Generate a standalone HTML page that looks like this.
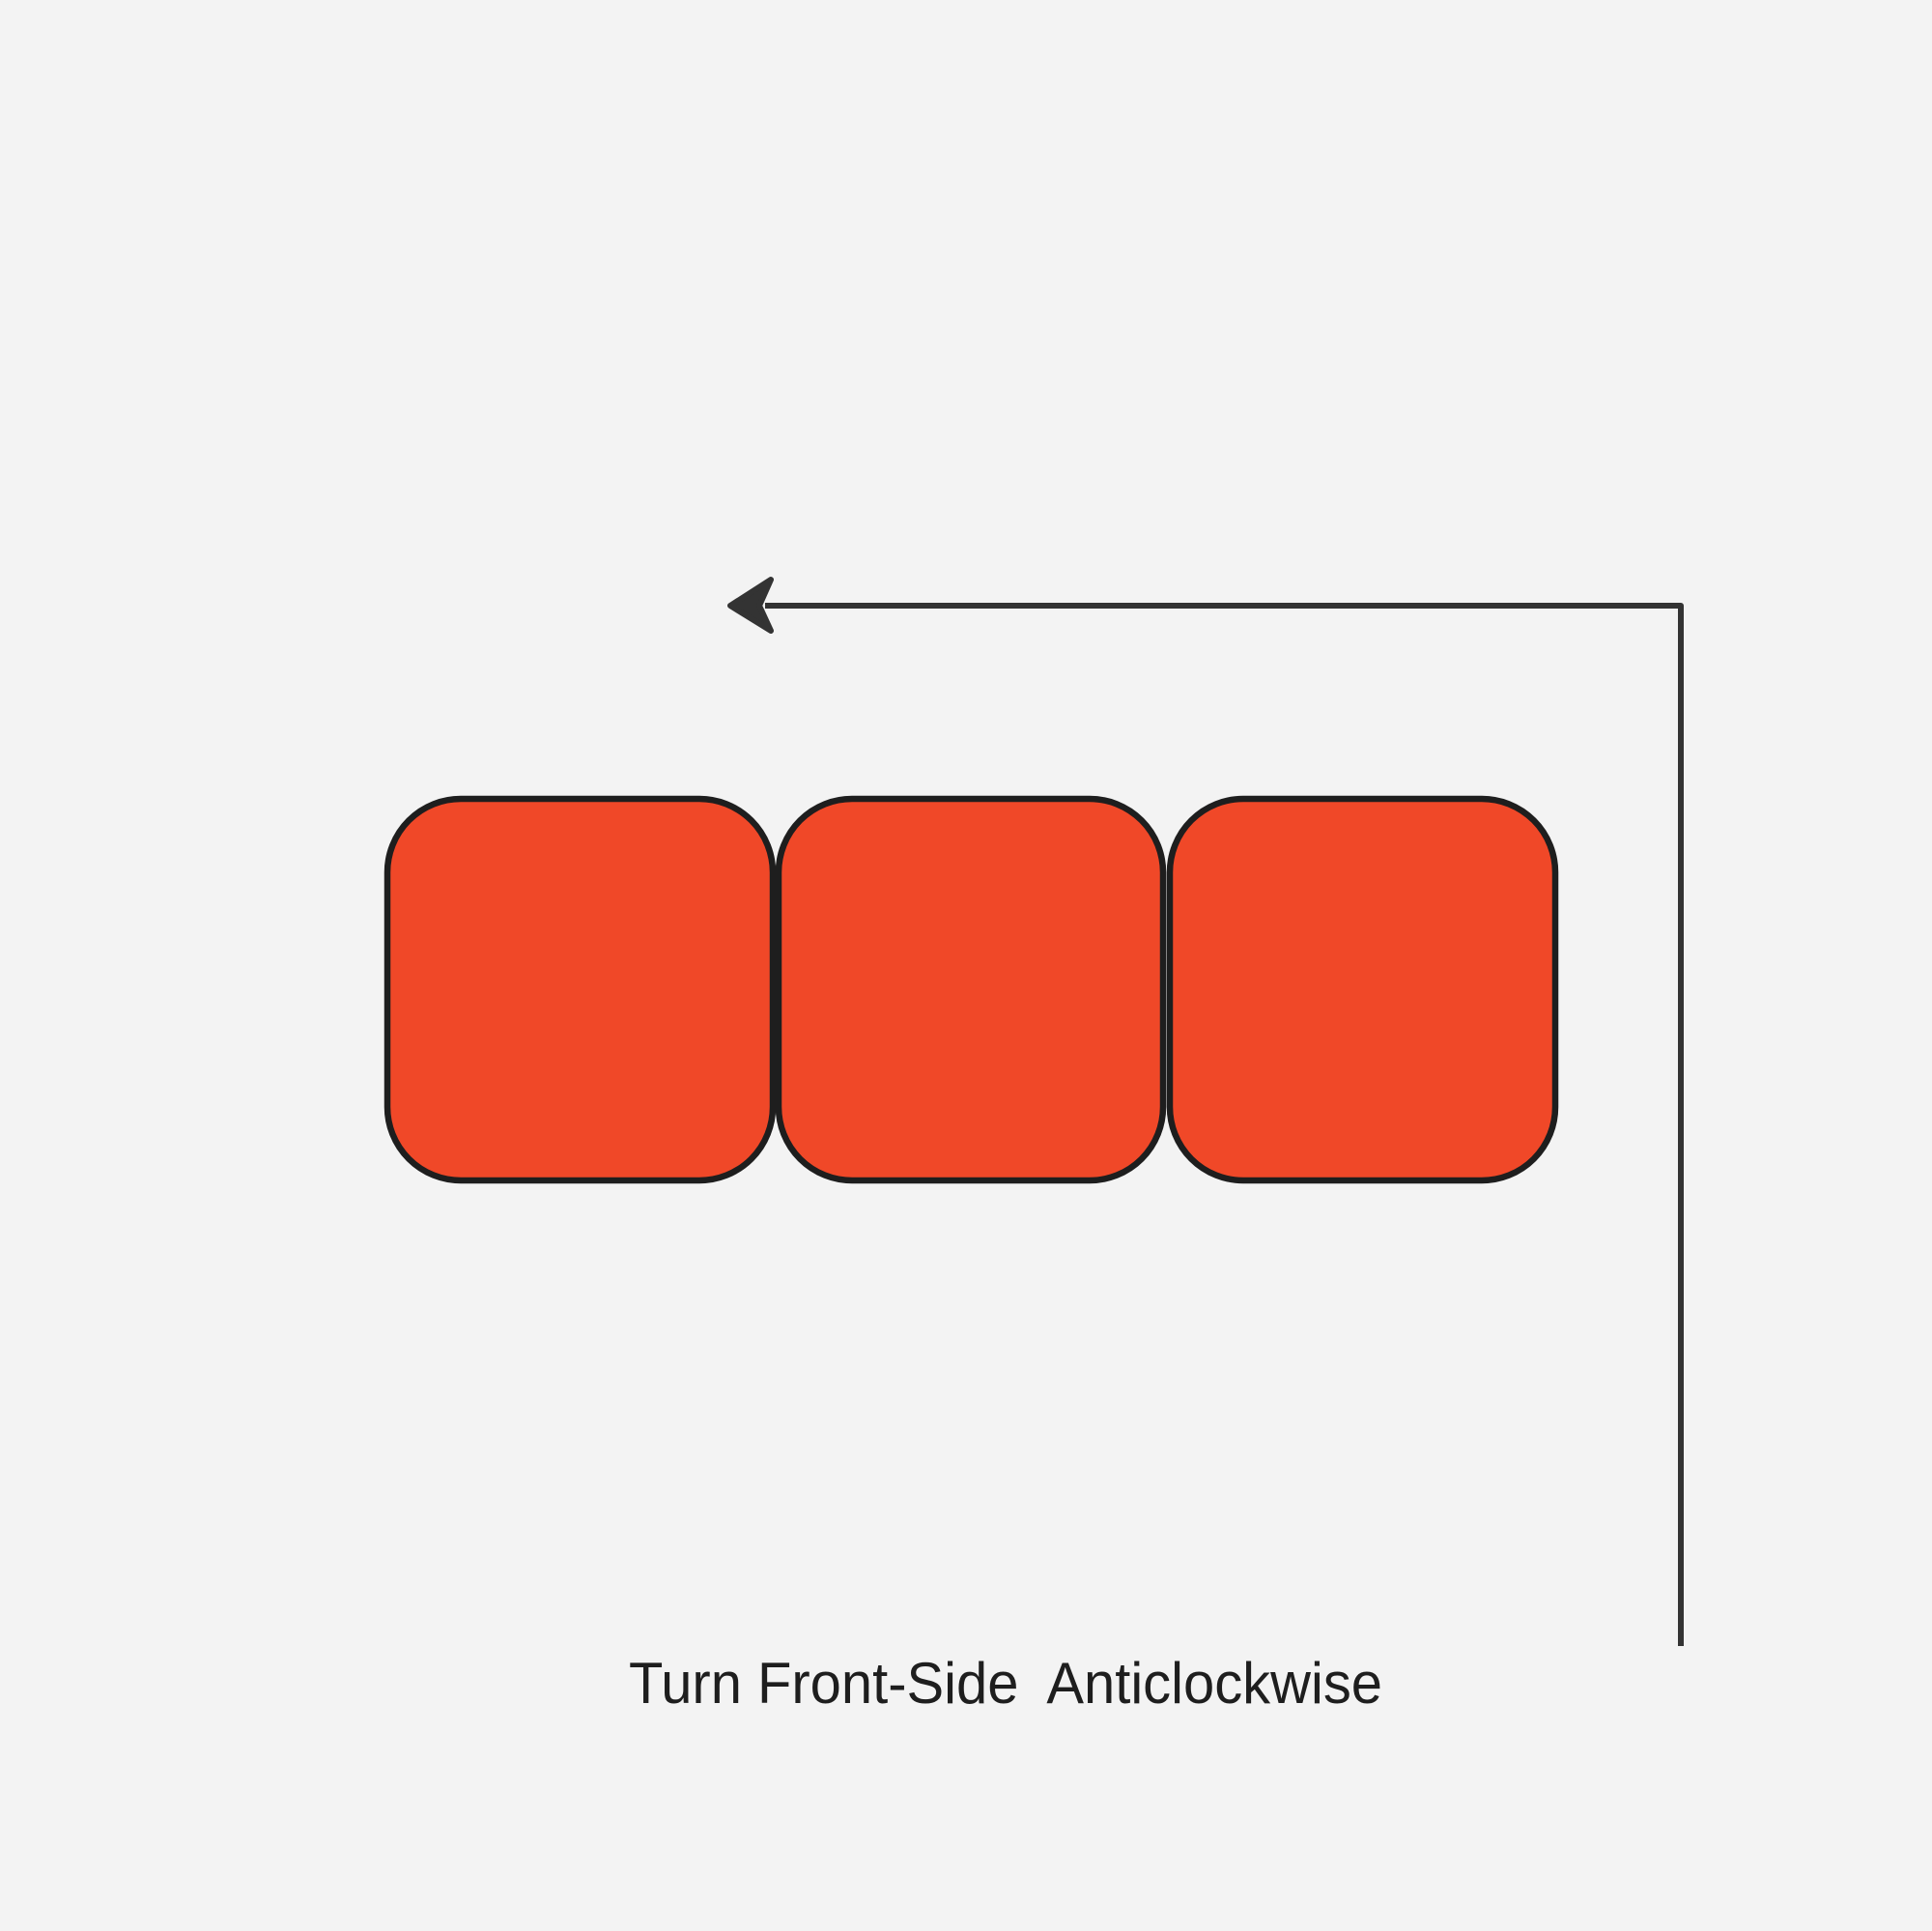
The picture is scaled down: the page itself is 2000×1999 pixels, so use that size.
<!DOCTYPE html>
<html>
<head>
<meta charset="utf-8">
<style>
html,body{margin:0;padding:0;background:#f3f3f3;}
svg{display:block;}
</style>
</head>
<body>
<svg width="2000" height="1999" viewBox="0 0 2000 1999">
  <rect x="0" y="0" width="2000" height="1999" fill="#f3f3f3"/>
  <g>
    <rect x="401" y="827" width="399" height="395" rx="76" ry="76" fill="#f04828" stroke="#1e1e1e" stroke-width="6.5"/>
    <rect x="806" y="827" width="398" height="395" rx="76" ry="76" fill="#f04828" stroke="#1e1e1e" stroke-width="6.5"/>
    <rect x="1211" y="827" width="399" height="395" rx="76" ry="76" fill="#f04828" stroke="#1e1e1e" stroke-width="6.5"/>
  </g>
  <g>
    <polyline points="1740,1704 1740,627 792,627" fill="none" stroke="#333333" stroke-width="6" stroke-linejoin="round"/>
    <path d="M756,627 L798,600 L786,627 L798,653 Z" fill="#333333" stroke="#333333" stroke-width="6" stroke-linejoin="round"/>
  </g>
  <text x="651" y="1763" font-family="'Liberation Sans', sans-serif" font-size="60" fill="#1e1e1e" textLength="780" lengthAdjust="spacingAndGlyphs" xml:space="preserve">Turn Front-Side  Anticlockwise</text>
</svg>
</body>
</html>
